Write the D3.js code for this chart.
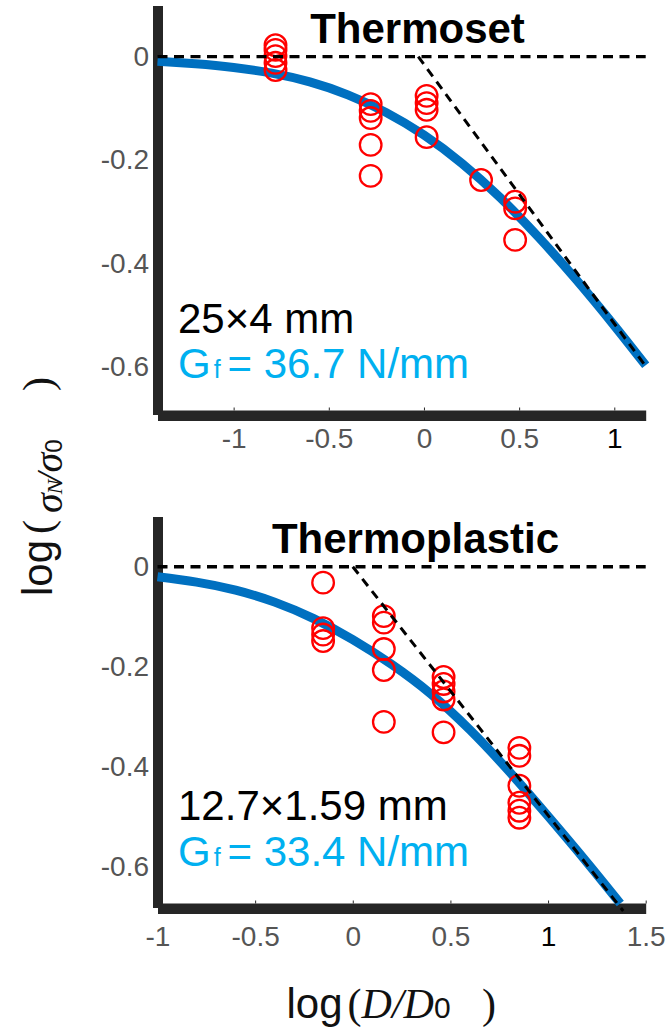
<!DOCTYPE html>
<html>
<head>
<meta charset="utf-8">
<script src="https://cdn.jsdelivr.net/npm/d3@7"></script>
<style>
  html, body { margin: 0; padding: 0; background: #fff; }
  svg { display: block; }
</style>
</head>
<body>
<svg id="chart" width="672" height="1029"></svg>
<script>
// ---------- data ----------
const panelTitles = ["Thermoset", "Thermoplastic"];
const specimenSizes = ["25×4 mm", "12.7×1.59 mm"];
const fractureEnergies = ["36.7", "33.4"];

const xTicksTop = [-1, -0.5, 0, 0.5, 1];
const xTicksBottom = [-1, -0.5, 0, 0.5, 1, 1.5];
const yTicks = [0, -0.2, -0.4, -0.6];

// measured strengths, log(D/D0) vs log(sigmaN/sigma0)
const thermosetLogD = [-0.78, -0.78, -0.78, -0.78, -0.78,
                       -0.28, -0.28, -0.28, -0.28, -0.28,
                       0.014, 0.014, 0.014, 0.014,
                       0.30,
                       0.479, 0.479, 0.479];
const thermosetLogS = [0.022, 0.013, 0.001, -0.012, -0.026,
                       -0.092, -0.105, -0.119, -0.171, -0.231,
                       -0.076, -0.090, -0.103, -0.156,
                       -0.239,
                       -0.281, -0.294, -0.355];

const thermoplasticLogD = [-0.152, -0.152, -0.152, -0.152,
                           0.159, 0.159, 0.159, 0.159, 0.159,
                           0.465, 0.465, 0.465, 0.465, 0.465,
                           0.853, 0.853, 0.853, 0.853, 0.853, 0.853];
const thermoplasticLogS = [-0.032, -0.123, -0.136, -0.149,
                           -0.099, -0.112, -0.165, -0.207, -0.311,
                           -0.221, -0.235, -0.250, -0.266, -0.332,
                           -0.363, -0.379, -0.439, -0.473, -0.489, -0.503];

// size-effect fit curves
const thermosetFitX = [-1.4, -1.2, -1.0, -0.8, -0.6, -0.4, -0.2, 0, 0.2, 0.4, 0.6, 0.8, 1.0, 1.165];
const thermosetFitY = [-0.009, -0.014, -0.021, -0.032, -0.049, -0.074, -0.108, -0.152, -0.207, -0.273, -0.349, -0.432, -0.521, -0.598];
const thermoplasticFitX = [-1.0, -0.8, -0.6, -0.4, -0.2, 0, 0.2, 0.4, 0.6, 0.8, 1.0, 1.2, 1.37];
const thermoplasticFitY = [-0.020, -0.031, -0.047, -0.071, -0.104, -0.146, -0.196, -0.255, -0.327, -0.410, -0.500, -0.593, -0.675];

// LEFM asymptote (slope -1/2) end points
const thermosetAsymX = [-0.03, 1.165];
const thermosetAsymY = [0, -0.60];
const thermoplasticAsymX = [0, 1.385];
const thermoplasticAsymY = [0, -0.69];

// ---------- drawing ----------
const SANS = "'Liberation Sans', Arial, Helvetica, sans-serif";
const SERIF = "'Liberation Serif', 'Times New Roman', serif";
const AXIS_COLOR = "#262626";
const FIT_COLOR = "#0070C0";
const NOTE_COLOR = "#00B0F0";

const svg = d3.select("#chart");

const panels = [
  {
    title: panelTitles[0], size: specimenSizes[0], gf: fractureEnergies[0],
    px: thermosetLogD, py: thermosetLogS,
    fx: thermosetFitX, fy: thermosetFitY,
    ax: thermosetAsymX, ay: thermosetAsymY,
    xTicks: xTicksTop,
    xDomain: [-1.4, 1.165], xRange: [157.5, 645.7],
    yDomain: [-0.7, 0.1], yRange: [418, 5],
    vBar: { y0: 6, y1: 415 }, hBar: { y0: 410.5, y1: 421 },
    tickLabelTop: 428.5, titleX: 417.5, titleY: 43,
    sizeY: 333, gfY: 378
  },
  {
    title: panelTitles[1], size: specimenSizes[1], gf: fractureEnergies[1],
    px: thermoplasticLogD, py: thermoplasticLogS,
    fx: thermoplasticFitX, fy: thermoplasticFitY,
    ax: thermoplasticAsymX, ay: thermoplasticAsymY,
    xTicks: xTicksBottom,
    xDomain: [-1, 1.5], xRange: [157.5, 645.7],
    yDomain: [-0.7, 0.1], yRange: [916, 516.8],
    vBar: { y0: 517, y1: 908 }, hBar: { y0: 903.5, y1: 914 },
    tickLabelTop: 926, titleX: 415.5, titleY: 553,
    sizeY: 820, gfY: 866
  }
];

const tickText = d => String(d);

panels.forEach(p => {
  const x = d3.scaleLinear().domain(p.xDomain).range(p.xRange);
  const y = d3.scaleLinear().domain(p.yDomain).range(p.yRange);
  const g = svg.append("g");

  // axes: thick left and bottom bars
  g.append("rect")
    .attr("x", p.xRange[0] - 4.5).attr("width", 10)
    .attr("y", p.vBar.y0).attr("height", p.vBar.y1 - p.vBar.y0)
    .attr("fill", AXIS_COLOR);
  g.append("rect")
    .attr("x", p.xRange[0] + 0.5).attr("width", p.xRange[1] - p.xRange[0])
    .attr("y", p.hBar.y0).attr("height", p.hBar.y1 - p.hBar.y0)
    .attr("fill", AXIS_COLOR);

  // small inward tick marks on the x axis
  const tickMarks = g.append("g")
    .attr("transform", `translate(0,${p.hBar.y0})`)
    .call(d3.axisBottom(x).tickValues(p.xTicks).tickSize(-3).tickFormat(""));
  tickMarks.select(".domain").remove();
  tickMarks.selectAll("line").attr("stroke", AXIS_COLOR).attr("stroke-width", 1);

  // x tick labels
  const xLab = g.append("g")
    .attr("transform", `translate(0,${p.tickLabelTop})`)
    .call(d3.axisBottom(x).tickValues(p.xTicks).tickSize(0).tickPadding(0)
      .tickFormat(tickText));
  xLab.select(".domain").remove();
  xLab.attr("font-family", null).attr("font-size", null);
  xLab.selectAll("text")
    .attr("font-family", SANS).attr("font-size", 28)
    .attr("fill", d => d === 1 ? "#000" : "#555");

  // y tick labels
  const yLab = g.append("g")
    .attr("transform", "translate(149,0)")
    .call(d3.axisLeft(y).tickValues(yTicks).tickSize(0).tickPadding(0)
      .tickFormat(tickText));
  yLab.select(".domain").remove();
  yLab.attr("font-family", null).attr("font-size", null);
  yLab.selectAll("text")
    .attr("font-family", SANS).attr("font-size", 28).attr("fill", "#555");

  // fitted size-effect curve
  const fit = p.fx.map((v, i) => [v, p.fy[i]]);
  g.append("path")
    .datum(fit)
    .attr("d", d3.line().x(d => x(d[0])).y(d => y(d[1])).curve(d3.curveNatural))
    .attr("fill", "none").attr("stroke", FIT_COLOR)
    .attr("stroke-width", 9).attr("stroke-linecap", "butt");

  // measured points
  const pts = p.px.map((v, i) => [v, p.py[i]]);
  g.selectAll("circle.pt").data(pts).enter().append("circle")
    .attr("class", "pt")
    .attr("cx", d => x(d[0])).attr("cy", d => y(d[1]))
    .attr("r", 10.8)
    .attr("fill", "none").attr("stroke", "#FF0000").attr("stroke-width", 2.3);

  // reference line at log(sigmaN/sigma0) = 0
  g.append("line")
    .attr("x1", x(p.xDomain[0])).attr("x2", x(p.xDomain[1]))
    .attr("y1", y(0)).attr("y2", y(0))
    .attr("stroke", "#000").attr("stroke-width", 3.4)
    .attr("stroke-dasharray", "10,6.5");

  // slope -1/2 asymptote
  g.append("line")
    .attr("x1", x(p.ax[0])).attr("y1", y(p.ay[0]))
    .attr("x2", x(p.ax[1])).attr("y2", y(p.ay[1]))
    .attr("stroke", "#000").attr("stroke-width", 3)
    .attr("stroke-dasharray", "9,6.5");

  // title
  g.append("text")
    .attr("x", p.titleX).attr("y", p.titleY)
    .attr("text-anchor", "middle")
    .attr("font-family", SANS).attr("font-weight", "bold").attr("font-size", 42)
    .attr("fill", "#000")
    .text(p.title);

  // specimen size and fracture energy
  g.append("text")
    .attr("x", 178).attr("y", p.sizeY)
    .attr("font-family", SANS).attr("font-size", 42).attr("fill", "#000")
    .text(p.size);

  const gf = g.append("text")
    .attr("x", 178).attr("y", p.gfY)
    .attr("font-family", SANS).attr("font-size", 42).attr("fill", NOTE_COLOR);
  gf.append("tspan").text("G");
  gf.append("tspan").attr("dx", 3).attr("font-size", 25).text("f");
  gf.append("tspan").attr("x", 227.5).text(`= ${p.gf} N/mm`);
});

// x-axis title: log(D/D0)
const xt = svg.append("text")
  .attr("x", 286.5).attr("y", 1018)
  .attr("font-family", SANS).attr("font-size", 42).attr("fill", "#111");
xt.append("tspan").text("log");
xt.append("tspan").attr("dx", 5).attr("font-family", SERIF).text("(");
xt.append("tspan").attr("font-family", SERIF).attr("font-style", "italic").text("D/D");
xt.append("tspan").attr("font-size", 30).text("0");
xt.append("tspan").attr("x", 482).attr("font-family", SERIF).text(")");

// y-axis title: log(sigmaN/sigma0), rotated
const yt = svg.append("text")
  .attr("transform", "translate(51.7,593) rotate(-90)")
  .attr("x", -3).attr("y", 0)
  .attr("font-family", SANS).attr("font-size", 42).attr("fill", "#111");
yt.append("tspan").text("log");
yt.append("tspan").attr("dx", 6).attr("font-family", SERIF).text("(");
yt.append("tspan").attr("dx", 7).attr("dy", 10).attr("font-family", SERIF).attr("font-style", "italic").attr("font-size", 40).text("σ");
yt.append("tspan").attr("dx", -1).attr("font-family", SERIF).attr("font-style", "italic").attr("font-size", 22).text("N");
yt.append("tspan").attr("dx", -3).attr("font-family", SERIF).attr("font-style", "italic").attr("font-size", 36).text("/");
yt.append("tspan").attr("dx", 0).attr("font-family", SERIF).attr("font-style", "italic").attr("font-size", 40).text("σ");
yt.append("tspan").attr("font-size", 24).text("0");
yt.append("tspan").attr("x", 202).attr("dy", -10).attr("font-family", SERIF).text(")");
</script>
</body>
</html>
